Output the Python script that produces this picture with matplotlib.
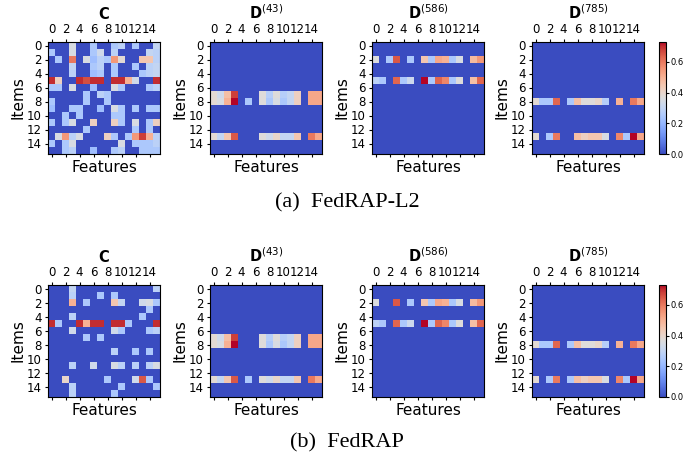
import numpy as np
import matplotlib.pyplot as plt

# colour scale shared by all panels
vmax = 0.73

# C matrices (16 items x 16 features)
C_l2 = np.zeros((16, 16))
C_l2[0, [3, 6, 9, 10, 12, 15]] = [0.35, 0.25, 0.25, 0.28, 0.25, 0.3]
C_l2[1, [0, 3, 6, 7, 9, 14, 15]] = [0.25, 0.35, 0.25, 0.33, 0.28, 0.3, 0.28]
C_l2[2, [1, 3, 5, 6, 7, 8, 9, 10, 13, 14, 15]] = [0.25, 0.6, 0.35, 0.22, 0.28, 0.25, 0.55, 0.38, 0.45, 0.45, 0.28]
C_l2[3, [3, 6, 7, 9, 12, 14, 15]] = [0.3, 0.25, 0.28, 0.25, 0.25, 0.28, 0.3]
C_l2[4, [3, 6, 7, 9, 13, 14, 15]] = [0.28, 0.22, 0.25, 0.25, 0.25, 0.28, 0.3]
C_l2[5, [0, 1, 4, 5, 6, 7, 9, 10, 11, 12, 15]] = [0.7, 0.42, 0.7, 0.66, 0.7, 0.7, 0.7, 0.7, 0.5, 0.33, 0.7]
C_l2[6, [0, 1, 3, 6, 9, 10, 14, 15]] = [0.25, 0.25, 0.35, 0.22, 0.35, 0.25, 0.25, 0.28]
C_l2[7, [5, 7, 8]] = [0.25, 0.28, 0.25]
C_l2[8, [0, 5, 8]] = [0.25, 0.25, 0.25]
C_l2[9, [0, 3, 4, 7, 9, 10, 12, 14, 15]] = [0.22, 0.25, 0.25, 0.22, 0.35, 0.25, 0.25, 0.25, 0.25]
C_l2[10, [2, 4, 9, 10]] = [0.25, 0.25, 0.25, 0.25]
C_l2[11, [0, 2, 3, 6, 9, 10, 12, 14, 15]] = [0.25, 0.25, 0.35, 0.42, 0.42, 0.25, 0.35, 0.25, 0.42]
C_l2[12, [5, 12, 14]] = [0.25, 0.25, 0.25]
C_l2[13, [1, 2, 3, 4, 8, 9, 11, 12, 13, 14, 15]] = [0.35, 0.55, 0.28, 0.35, 0.42, 0.25, 0.25, 0.55, 0.68, 0.5, 0.28]
C_l2[14, [0, 2, 3, 10, 12, 13, 14, 15]] = [0.25, 0.25, 0.35, 0.35, 0.25, 0.25, 0.25, 0.28]
C_l2[15, [2, 3, 6, 9, 10, 13, 14, 15]] = [0.25, 0.28, 0.22, 0.25, 0.28, 0.25, 0.25, 0.25]

C_rap = np.zeros((16, 16))
C_rap[0, [3, 15]] = [0.3, 0.28]
C_rap[1, [3, 7, 9]] = [0.28, 0.25, 0.25]
C_rap[2, [3, 5, 9, 10, 13, 14, 15]] = [0.5, 0.25, 0.45, 0.3, 0.33, 0.35, 0.25]
C_rap[3, [14]] = [0.25]
C_rap[4, [3, 13]] = [0.28, 0.25]
C_rap[5, [0, 1, 4, 5, 6, 7, 9, 10, 11, 15]] = [0.7, 0.25, 0.7, 0.5, 0.7, 0.7, 0.7, 0.7, 0.25, 0.7]
C_rap[6, [3, 9, 10, 14, 15]] = [0.33, 0.33, 0.25, 0.25, 0.28]
C_rap[7, [5, 7]] = [0.25, 0.25]
C_rap[9, [9, 12, 14]] = [0.28, 0.25, 0.25]
C_rap[11, [3, 6, 9, 10, 12, 14, 15]] = [0.28, 0.33, 0.35, 0.28, 0.28, 0.28, 0.35]
C_rap[13, [2, 8, 12, 13, 14]] = [0.4, 0.25, 0.33, 0.65, 0.25]
C_rap[14, [3, 10, 15]] = [0.28, 0.25, 0.25]
C_rap[15, [3, 9]] = [0.28, 0.25]

# D matrices: only a few item rows are non-zero
D43_row7 = [0.38, 0.33, 0.47, 0.68, 0, 0, 0, 0.37, 0.27, 0.37, 0.27, 0.3, 0.42, 0, 0.52, 0.52]
D43_row8 = [0.38, 0.35, 0.5, 0.73, 0, 0.25, 0, 0.37, 0.25, 0.35, 0.25, 0.3, 0.42, 0, 0.52, 0.52]
D43_row13 = [0.38, 0.3, 0.45, 0.65, 0, 0, 0, 0.37, 0.33, 0.4, 0.3, 0.3, 0.45, 0, 0.6, 0.52]
D586_row2 = [0.36, 0, 0.25, 0.65, 0, 0.25, 0, 0.45, 0.25, 0.52, 0.5, 0.25, 0.35, 0, 0.48, 0.55]
D586_row5 = [0.28, 0.25, 0, 0.63, 0.25, 0.32, 0, 0.73, 0.25, 0.63, 0.58, 0.25, 0.37, 0, 0.47, 0.63]
D785_row8 = [0.38, 0.25, 0.25, 0.63, 0, 0.25, 0.47, 0.37, 0.37, 0.4, 0.27, 0, 0.5, 0, 0.6, 0.52]
D785_row13 = [0.38, 0, 0.25, 0.6, 0, 0, 0.47, 0.42, 0.45, 0.45, 0.35, 0, 0.58, 0.25, 0.73, 0.52]


def make_d(rows):
    m = np.zeros((16, 16))
    for r, vals in rows.items():
        m[r] = vals
    return m


D43_l2 = make_d({7: D43_row7, 8: D43_row8, 13: D43_row13})
D586_l2 = make_d({2: D586_row2, 5: D586_row5})
D785_l2 = make_d({8: D785_row8, 13: D785_row13})

D43_rap = D43_l2.copy()
D43_rap[8, 5] = 0
D43_rap[13, 5] = 0.25
D586_rap = D586_l2.copy()
D586_rap[2, 2] = 0
D785_rap = D785_l2.copy()
D785_rap[13, 5] = 0.25

titles = [r'$\mathbf{C}$', r'$\mathbf{D}^{(43)}$', r'$\mathbf{D}^{(586)}$', r'$\mathbf{D}^{(785)}$']
rows = [
    ([C_l2, D43_l2, D586_l2, D785_l2], '(a)  FedRAP-L2'),
    ([C_rap, D43_rap, D586_rap, D785_rap], '(b)  FedRAP'),
]

fig = plt.figure(figsize=(6.83, 4.57), dpi=100)

lefts = [48, 210, 372, 532]
row_tops = [42, 285]
row_caps = [203, 443]
W, H = 683, 457

for (mats, cap), top, cap_y in zip(rows, row_tops, row_caps):
    for i, (m, t) in enumerate(zip(mats, titles)):
        ax = fig.add_axes([lefts[i] / W, 1 - (top + 112) / H, 112 / W, 112 / H])
        im = ax.matshow(m, cmap='coolwarm', vmin=0, vmax=vmax)
        ax.set_xticks(range(0, 16, 2))
        ax.set_yticks(range(0, 16, 2))
        ax.tick_params(labelsize=8.5, length=2.5, pad=2)
        ax.set_title(t, fontsize=10.5, pad=3)
        ax.set_xlabel('Features', fontsize=11, labelpad=2)
        ax.set_ylabel('Items', fontsize=11, labelpad=1)
    cax = fig.add_axes([659 / W, 1 - (top + 112) / H, 7 / W, 112 / H])
    cb = fig.colorbar(im, cax=cax, ticks=[0.0, 0.2, 0.4, 0.6])
    cb.ax.tick_params(labelsize=6, length=2, pad=1)
    fig.text(347 / W, 1 - cap_y / H, cap, ha='center', va='center',
             fontsize=16, family='Liberation Serif')

fig.savefig('out.png', dpi=100)
